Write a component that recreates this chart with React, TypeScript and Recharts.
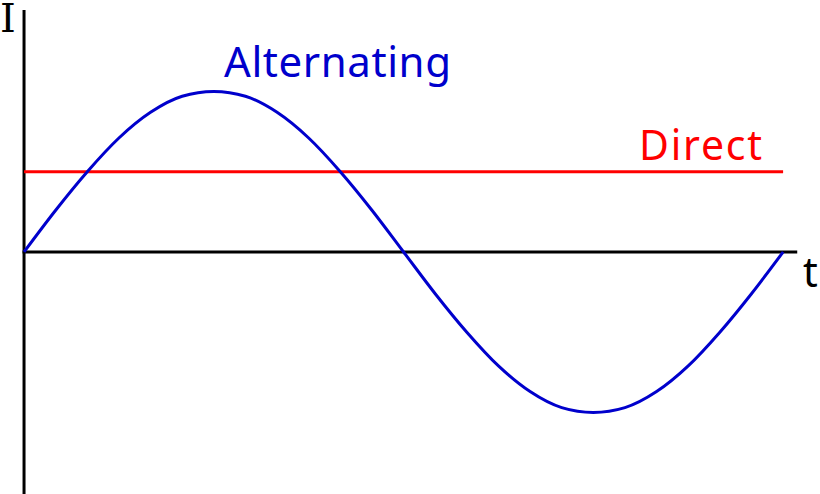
import React from 'react';
import { LineChart, Line, XAxis, YAxis, ReferenceLine } from 'recharts';

// phase in degrees, current (1 = peak)
const phase = [0, 15, 30, 45, 60, 75, 90, 105, 120, 135, 150, 165, 180, 195, 210, 225, 240, 255, 270, 285, 300, 315, 330, 345, 360];
const alternating = [0, 0.26, 0.5, 0.71, 0.87, 0.97, 1, 0.97, 0.87, 0.71, 0.5, 0.26, 0, -0.26, -0.5, -0.71, -0.87, -0.97, -1, -0.97, -0.87, -0.71, -0.5, -0.26, 0];
const directPhase = [0, 360];
const direct = [0.5, 0.5];

const acData = phase.map((t, i) => ({ t, v: alternating[i] }));
const dcData = directPhase.map((t, i) => ({ t, v: direct[i] }));

const BLUE = '#0000cc';
const RED = '#ff0000';

const W = 820;
const H = 494;

export default function App() {
  return (
    <div style={{ position: 'absolute', left: 0, top: 0, width: W, height: H, background: '#fff' }}>
      <LineChart width={W} height={H} margin={{ top: 0, right: 0, bottom: 0, left: 0 }}>
        <XAxis type="number" dataKey="t" domain={[-11.4, 377.5]} allowDataOverflow hide />
        <YAxis type="number" dataKey="v" domain={[-1.508, 1.57]} allowDataOverflow hide />
        {/* axes */}
        <ReferenceLine segment={[{ x: 0, y: 1.508 }, { x: 0, y: -1.508 }]} stroke="#000" strokeWidth={3} ifOverflow="visible" />
        <ReferenceLine segment={[{ x: -0.7, y: 0 }, { x: 366.7, y: 0 }]} stroke="#000" strokeWidth={3} ifOverflow="visible" />
        <Line data={dcData} dataKey="v" type="linear" stroke={RED} strokeWidth={3} dot={false} activeDot={false} isAnimationActive={false} />
        <Line data={acData} dataKey="v" type="monotone" stroke={BLUE} strokeWidth={3} dot={false} activeDot={false} isAnimationActive={false} />
      </LineChart>
      <svg width={W} height={H} style={{ position: 'absolute', left: 0, top: 0, pointerEvents: 'none' }}>
        <text x={8} y={32} textAnchor="middle" fontFamily="DejaVu Serif" fontSize={40} fill="#000">I</text>
        <text x={803} y={287} fontFamily="Noto Sans" fontSize={41} fill="#000">t</text>
        <text x={224} y={77} fontFamily="Noto Sans" fontSize={42} fill={BLUE} textLength={227} lengthAdjust="spacing">Alternating</text>
        <text x={639} y={160} fontFamily="Noto Sans" fontSize={41} fill={RED} textLength={123} lengthAdjust="spacing">Direct</text>
      </svg>
    </div>
  );
}
